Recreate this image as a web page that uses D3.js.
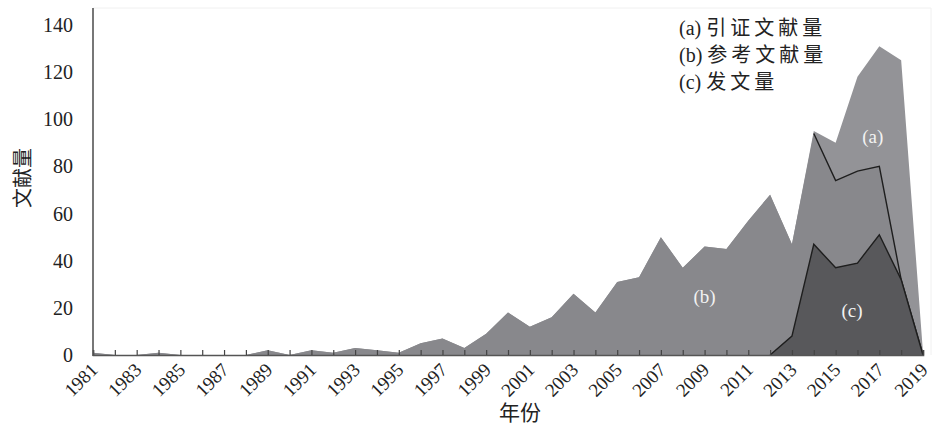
<!DOCTYPE html>
<html>
<head>
<meta charset="utf-8">
<script src="https://cdn.jsdelivr.net/npm/d3@7"></script>
<style>
  html, body { margin: 0; padding: 0; background: #fff; }
  svg { display: block; }
</style>
</head>
<body>
<svg id="chart" width="933" height="425"></svg>
<script>
// ---- data ----
const years = d3.range(1981, 2020);
// (a) 引证文献量
const citing = [1,0,0,1,0,0,0,0,2,0,2,1,3,2,1,5,7,3,9,18,12,16,26,18,31,33,50,37,46,45,57,68,47,95,90,118,131,125,1];
// (b) 参考文献量
const refs   = [1,0,0,1,0,0,0,0,2,0,2,1,3,2,1,5,7,3,9,18,12,16,26,18,31,33,50,37,46,45,57,68,47,94,74,78,80,32,0];
// (c) 发文量
const pubYears = [2012,2013,2014,2015,2016,2017,2018,2019];
const pubs     = [0,8,47,37,39,51,32,0];
const xTickYears = d3.range(1981, 2020, 2);
const yTicks = [0,20,40,60,80,100,120,140];
const legendLabels = ["(a) 引证文献量", "(b) 参考文献量", "(c) 发文量"];

// ---- layout ----
const svg = d3.select("#chart");
const x = d3.scaleLinear().domain([1981, 2019]).range([93, 923]);
const y = d3.scaleLinear().domain([0, 140]).range([355, 25]);
const serif = "'Liberation Serif','Times New Roman',serif";
const cjk = "'Noto Sans CJK SC','Noto Sans CJK JP',sans-serif";

// faint frame
svg.append("line").attr("x1", 93).attr("x2", 931).attr("y1", 8).attr("y2", 8)
  .attr("stroke", "#f0f0f0").attr("stroke-width", 1);
svg.append("line").attr("x1", 931).attr("x2", 931).attr("y1", 8).attr("y2", 355)
  .attr("stroke", "#f0f0f0").attr("stroke-width", 1);

const area = d3.area().x(d => x(d[0])).y0(y(0)).y1(d => y(d[1]));
const line = d3.line().x(d => x(d[0])).y(d => y(d[1]));

const aData = years.map((yr, i) => [yr, citing[i]]);
const bData = years.map((yr, i) => [yr, refs[i]]);
const cData = pubYears.map((yr, i) => [yr, pubs[i]]);

svg.append("path").datum(aData).attr("d", area).attr("fill", "#939397");
svg.append("path").datum(bData).attr("d", area).attr("fill", "#88888c");
svg.append("path").datum(bData.filter(d => d[0] >= 2014)).attr("d", line)
  .attr("fill", "none").attr("stroke", "#1e1e1e").attr("stroke-width", 1.4);
svg.append("path").datum(cData).attr("d", area).attr("fill", "#58585b");
svg.append("path").datum(cData).attr("d", line)
  .attr("fill", "none").attr("stroke", "#1e1e1e").attr("stroke-width", 1.4);

// ---- axes ----
const xAxis = d3.axisBottom(x).tickValues(years).tickSize(-5).tickFormat("");
const gx = svg.append("g").attr("transform", `translate(0,${y(0)})`).call(xAxis);
gx.select(".domain").attr("stroke", "#555").attr("stroke-width", 1.6);
gx.selectAll(".tick line").attr("stroke", "#444").attr("stroke-width", 1.2);

svg.append("g").selectAll("text").data(xTickYears).join("text")
  .attr("transform", d => `translate(${x(d) + 6},371) rotate(-45)`)
  .attr("text-anchor", "end")
  .attr("font-family", serif).attr("font-size", 19).attr("fill", "#222")
  .text(d => d);

svg.append("line").attr("x1", 93).attr("x2", 93).attr("y1", 8).attr("y2", 356)
  .attr("stroke", "#555").attr("stroke-width", 1.6);

svg.append("g").selectAll("text").data(yTicks).join("text")
  .attr("x", 73).attr("y", d => y(d) + 7)
  .attr("text-anchor", "end")
  .attr("font-family", serif).attr("font-size", 20).attr("fill", "#222")
  .text(d => d);

// axis titles
svg.append("text").attr("transform", "translate(30,178) rotate(-90)")
  .attr("text-anchor", "middle").attr("font-family", cjk).attr("font-size", 20)
  .attr("fill", "#222").text("文献量");
svg.append("text").attr("x", 520).attr("y", 420)
  .attr("text-anchor", "middle").attr("font-family", cjk).attr("font-size", 21)
  .attr("fill", "#222").text("年份");

// legend
const lg = svg.append("g");
legendLabels.forEach((t, i) => {
  const m = t.match(/^(\(\w\))\s*(.*)$/);
  const txt = lg.append("text").attr("x", 679).attr("y", 35 + i * 27)
    .attr("font-size", 20).attr("fill", "#222");
  txt.append("tspan").attr("font-family", serif).text(m[1] + " ");
  txt.append("tspan").attr("font-family", cjk).attr("letter-spacing", 4).text(m[2]);
});

// area labels
const areaLabels = [
  {t: "(a)", yr: 2016.7, v: 90},
  {t: "(b)", yr: 2009, v: 22},
  {t: "(c)", yr: 2015.75, v: 16}
];
svg.append("g").selectAll("text").data(areaLabels).join("text")
  .attr("x", d => x(d.yr)).attr("y", d => y(d.v))
  .attr("text-anchor", "middle")
  .attr("font-family", serif).attr("font-size", 19).attr("fill", "#f2f2f2")
  .text(d => d.t);
</script>
</body>
</html>
